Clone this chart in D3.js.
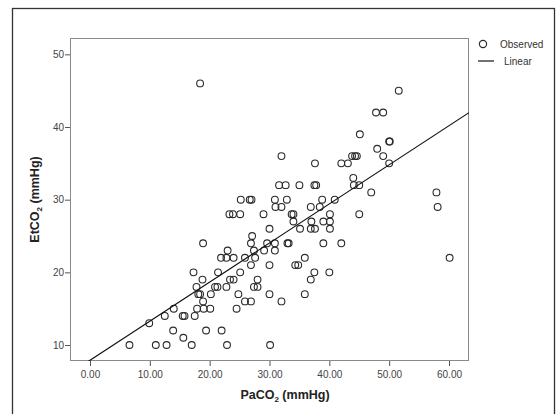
<!DOCTYPE html>
<html>
<head>
<meta charset="utf-8">
<script src="https://cdn.jsdelivr.net/npm/d3@7"></script>
<style>
  body { margin: 0; background: #fff; }
  svg { display: block; font-family: "Liberation Sans", Arial, sans-serif; }
</style>
</head>
<body>
<div id="chart"></div>
<script>
const width = 557;
const height = 414;

// PaCO2 (x) and EtCO2 (y)
const paco2 = [
  6.6, 9.9, 11.0, 12.8, 12.5, 13.9, 14.0, 15.6, 15.5, 15.8,
  17.0, 17.5, 17.9, 19.0, 20.1, 18.9, 18.1, 18.4, 20.2, 17.8,
  20.9, 21.3, 22.8, 18.8, 17.3, 21.4, 19.4, 22.0, 22.9, 18.4,
  18.9, 23.0, 21.9, 22.8, 24.0, 23.4, 24.0, 24.8, 24.5, 25.1,
  23.3, 23.9, 25.1, 45.1, 32.0, 37.6, 42.0, 43.1, 43.8, 44.3,
  44.6, 44.0, 44.1, 45.0, 31.6, 32.7, 35.0, 37.5, 37.8, 25.2,
  26.7, 27.0, 30.9, 32.9, 38.8, 40.9, 31.0, 32.0, 36.9, 38.4,
  45.0, 29.0, 33.7, 34.0, 40.1, 34.0, 37.0, 39.0, 40.1, 30.0,
  35.1, 36.9, 37.6, 40.1, 27.1, 26.9, 29.6, 30.9, 33.0, 33.2,
  39.0, 42.0, 27.4, 29.1, 30.9, 25.9, 27.6, 35.9, 26.9, 30.0,
  34.3, 34.8, 37.5, 40.0, 28.0, 36.9, 27.4, 28.0, 30.0, 35.9,
  25.9, 26.9, 32.0, 30.1, 51.6, 47.8, 49.0, 50.0, 50.1, 48.0,
  49.0, 50.0, 47.0, 57.9, 58.1, 60.1
];
const etco2 = [
  10, 13, 10, 10, 14, 12, 15, 11, 14, 14,
  10, 14, 15, 15, 15, 16, 17, 17, 17, 18,
  18, 18, 18, 19, 20, 20, 12, 12, 10, 46,
  24, 23, 22, 22, 22, 19, 19, 17, 15, 20,
  28, 28, 28, 39, 36, 35, 35, 35, 36, 36,
  36, 33, 32, 32, 32, 32, 32, 32, 32, 30,
  30, 30, 30, 30, 30, 30, 29, 29, 29, 29,
  28, 28, 28, 28, 28, 27, 27, 27, 27, 26,
  26, 26, 26, 26, 25, 24, 24, 24, 24, 24,
  24, 24, 23, 23, 23, 22, 22, 22, 21, 21,
  21, 21, 20, 20, 19, 19, 18, 18, 17, 17,
  16, 16, 16, 10, 45, 42, 42, 38, 38, 37,
  36, 35, 31, 31, 29, 22
];

// linear fit as drawn in the picture
const fitIntercept = 7.9;
const fitSlope = 0.538;

const xTicks = [0, 10, 20, 30, 40, 50, 60];
const yTicks = [10, 20, 30, 40, 50];
const legendLabels = ["Observed", "Linear"];

const points = paco2.map((x, i) => ({x: x, y: etco2[i]}));

const plot = {left: 70, top: 38, right: 469, bottom: 361};

const x = d3.scaleLinear().domain([-3.34, 63.34]).range([plot.left, plot.right]);
const y = d3.scaleLinear().domain([7.8, 52.25]).range([plot.bottom, plot.top]);

const svg = d3.select("#chart").append("svg")
    .attr("width", width)
    .attr("height", height);

// outer frame
svg.append("rect")
    .attr("x", 12.5).attr("y", 8.5)
    .attr("width", 542).attr("height", 420)
    .attr("fill", "none")
    .attr("stroke", "#333")
    .attr("stroke-width", 1.3);

svg.append("clipPath").attr("id", "clip")
  .append("rect")
    .attr("x", plot.left).attr("y", plot.top)
    .attr("width", plot.right - plot.left)
    .attr("height", plot.bottom - plot.top);

// axes
const xAxis = svg.append("g")
    .attr("transform", `translate(0,${plot.bottom})`)
    .call(d3.axisBottom(x).tickValues(xTicks).tickFormat(d3.format(".2f")).tickSizeOuter(0).tickSize(5));
const yAxis = svg.append("g")
    .attr("transform", `translate(${plot.left},0)`)
    .call(d3.axisLeft(y).tickValues(yTicks).tickSizeOuter(0).tickSize(5));

[xAxis, yAxis].forEach(g => {
  g.select(".domain").remove();
  g.selectAll(".tick line").attr("stroke", "#555");
  g.selectAll(".tick text").attr("fill", "#444").style("font-size", "10px");
});
xAxis.selectAll(".tick text").attr("dy", "0.9em");
yAxis.selectAll(".tick text").attr("x", -6);

// plot box
svg.append("rect")
    .attr("x", plot.left + 0.5).attr("y", plot.top + 0.5)
    .attr("width", plot.right - plot.left - 1)
    .attr("height", plot.bottom - plot.top - 1)
    .attr("fill", "none")
    .attr("stroke", "#8a8a8a")
    .attr("stroke-width", 1);

// points
svg.append("g")
  .selectAll("circle")
  .data(points)
  .join("circle")
    .attr("cx", d => x(d.x))
    .attr("cy", d => y(d.y))
    .attr("r", 3.4)
    .attr("fill", "none")
    .attr("stroke", "#2a2a2a")
    .attr("stroke-width", 1.1);

// fit line
const xd = x.domain();
svg.append("line")
    .attr("clip-path", "url(#clip)")
    .attr("x1", x(xd[0])).attr("y1", y(fitIntercept + fitSlope * xd[0]))
    .attr("x2", x(xd[1])).attr("y2", y(fitIntercept + fitSlope * xd[1]))
    .attr("stroke", "#111")
    .attr("stroke-width", 1.2);

// axis titles
const xt = svg.append("text")
    .attr("x", 285).attr("y", 399)
    .attr("text-anchor", "middle")
    .style("font-size", "12.5px").style("font-weight", "bold").attr("fill", "#222");
xt.append("tspan").text("PaCO");
xt.append("tspan").attr("dy", 3).style("font-size", "8px").text("2");
xt.append("tspan").attr("dy", -3).text(" (mmHg)");

const yt = svg.append("text")
    .attr("transform", `translate(39,${(plot.top + plot.bottom) / 2}) rotate(-90)`)
    .attr("text-anchor", "middle")
    .style("font-size", "12.5px").style("font-weight", "bold").attr("fill", "#222");
yt.append("tspan").text("EtCO");
yt.append("tspan").attr("dy", 3).style("font-size", "8px").text("2");
yt.append("tspan").attr("dy", -3).text(" (mmHg)");

// legend
const legend = svg.append("g").attr("transform", "translate(483,44)");
legend.append("circle")
    .attr("r", 3.6).attr("fill", "none")
    .attr("stroke", "#2a2a2a").attr("stroke-width", 1.2);
legend.append("line")
    .attr("x1", -5).attr("x2", 11).attr("y1", 17).attr("y2", 17)
    .attr("stroke", "#111").attr("stroke-width", 1.2);
legend.selectAll("text.lab")
  .data(legendLabels)
  .join("text")
    .attr("class", "lab")
    .attr("x", (d, i) => i === 0 ? 17 : 21)
    .attr("y", (d, i) => i * 17 + 3.5)
    .style("font-size", "10px")
    .attr("fill", "#333")
    .text(d => d);
</script>
</body>
</html>
